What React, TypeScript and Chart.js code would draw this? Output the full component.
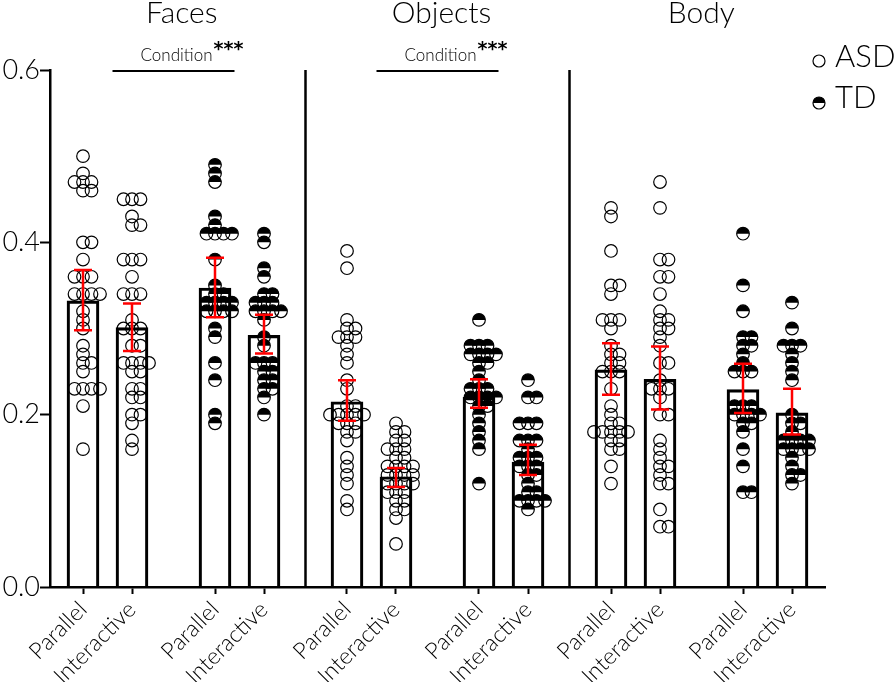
import { useEffect, useRef } from 'react';
import { Chart, registerables } from 'chart.js';

Chart.register(...registerables);

// ---------- data ----------
const panels = ['Faces', 'Objects', 'Body'];
const groupNames = ['ASD', 'TD'];
const barLabels = [
  'Parallel', 'Interactive', 'Parallel', 'Interactive',
  'Parallel', 'Interactive', 'Parallel', 'Interactive',
  'Parallel', 'Interactive', 'Parallel', 'Interactive',
];
const barGroup = ['ASD', 'ASD', 'TD', 'TD', 'ASD', 'ASD', 'TD', 'TD', 'ASD', 'ASD', 'TD', 'TD'];
const barMeans = [0.332, 0.301, 0.347, 0.292, 0.215, 0.128, 0.220, 0.145, 0.252, 0.241, 0.229, 0.202];
const ciLow = [0.298, 0.274, 0.313, 0.271, 0.193, 0.116, 0.208, 0.130, 0.223, 0.206, 0.202, 0.177];
const ciHigh = [0.368, 0.329, 0.382, 0.316, 0.240, 0.138, 0.241, 0.165, 0.283, 0.279, 0.259, 0.230];
const yTicks = [0, 0.2, 0.4, 0.6];
const sigPanels = ['Faces', 'Objects'];
const sigLabel = 'Condition';
const sigStars = '***';

const facesAsdParallel = [0.50, 0.48, 0.47, 0.47, 0.47, 0.46, 0.46, 0.40, 0.40, 0.38, 0.36, 0.36, 0.36, 0.34, 0.34, 0.34, 0.34, 0.32, 0.31, 0.30, 0.28, 0.27, 0.26, 0.26, 0.25, 0.23, 0.23, 0.23, 0.23, 0.21, 0.16];
const facesAsdInteractive = [0.45, 0.45, 0.45, 0.43, 0.42, 0.42, 0.38, 0.38, 0.38, 0.36, 0.34, 0.34, 0.34, 0.31, 0.30, 0.30, 0.30, 0.28, 0.28, 0.26, 0.26, 0.26, 0.26, 0.25, 0.25, 0.23, 0.23, 0.22, 0.22, 0.20, 0.20, 0.19, 0.17, 0.16];
const facesTdParallel = [0.49, 0.48, 0.47, 0.43, 0.42, 0.41, 0.41, 0.41, 0.41, 0.38, 0.35, 0.34, 0.34, 0.33, 0.33, 0.33, 0.33, 0.32, 0.32, 0.32, 0.32, 0.30, 0.29, 0.26, 0.24, 0.20, 0.19];
const facesTdInteractive = [0.41, 0.40, 0.37, 0.36, 0.34, 0.34, 0.33, 0.33, 0.33, 0.32, 0.32, 0.32, 0.32, 0.31, 0.29, 0.28, 0.26, 0.26, 0.26, 0.25, 0.25, 0.24, 0.24, 0.23, 0.23, 0.22, 0.20];
const objectsAsdParallel = [0.39, 0.37, 0.31, 0.30, 0.30, 0.29, 0.29, 0.29, 0.28, 0.27, 0.26, 0.24, 0.23, 0.21, 0.21, 0.20, 0.20, 0.20, 0.20, 0.20, 0.19, 0.19, 0.19, 0.18, 0.18, 0.17, 0.15, 0.14, 0.13, 0.12, 0.10, 0.09];
const objectsAsdInteractive = [0.19, 0.18, 0.18, 0.17, 0.17, 0.16, 0.16, 0.16, 0.15, 0.15, 0.14, 0.14, 0.14, 0.14, 0.13, 0.13, 0.13, 0.13, 0.12, 0.12, 0.12, 0.12, 0.11, 0.11, 0.11, 0.10, 0.10, 0.09, 0.09, 0.08, 0.05];
const objectsTdParallel = [0.31, 0.28, 0.28, 0.28, 0.27, 0.27, 0.27, 0.27, 0.26, 0.26, 0.25, 0.24, 0.23, 0.23, 0.23, 0.22, 0.22, 0.22, 0.22, 0.21, 0.21, 0.20, 0.19, 0.18, 0.17, 0.16, 0.12];
const objectsTdInteractive = [0.24, 0.22, 0.22, 0.19, 0.19, 0.19, 0.17, 0.17, 0.17, 0.16, 0.15, 0.15, 0.15, 0.14, 0.14, 0.14, 0.13, 0.13, 0.12, 0.11, 0.11, 0.10, 0.10, 0.10, 0.10, 0.09];
const bodyAsdParallel = [0.44, 0.43, 0.39, 0.35, 0.35, 0.34, 0.31, 0.31, 0.31, 0.30, 0.28, 0.27, 0.27, 0.26, 0.26, 0.25, 0.25, 0.25, 0.23, 0.21, 0.20, 0.19, 0.19, 0.18, 0.18, 0.18, 0.18, 0.18, 0.17, 0.17, 0.16, 0.16, 0.14, 0.12];
const bodyAsdInteractive = [0.47, 0.44, 0.38, 0.38, 0.36, 0.36, 0.34, 0.32, 0.31, 0.31, 0.30, 0.30, 0.29, 0.28, 0.26, 0.26, 0.24, 0.23, 0.23, 0.23, 0.22, 0.20, 0.20, 0.17, 0.16, 0.15, 0.14, 0.14, 0.13, 0.12, 0.12, 0.09, 0.07, 0.07];
const bodyTdParallel = [0.41, 0.35, 0.32, 0.29, 0.29, 0.28, 0.28, 0.27, 0.26, 0.25, 0.25, 0.25, 0.21, 0.21, 0.21, 0.20, 0.20, 0.20, 0.20, 0.19, 0.19, 0.18, 0.16, 0.14, 0.11, 0.11];
const bodyTdInteractive = [0.33, 0.30, 0.28, 0.28, 0.28, 0.27, 0.26, 0.25, 0.24, 0.20, 0.19, 0.19, 0.18, 0.17, 0.17, 0.17, 0.17, 0.16, 0.16, 0.16, 0.16, 0.15, 0.14, 0.13, 0.13, 0.12];

const pointSets = [
  facesAsdParallel, facesAsdInteractive, facesTdParallel, facesTdInteractive,
  objectsAsdParallel, objectsAsdInteractive, objectsTdParallel, objectsTdInteractive,
  bodyAsdParallel, bodyAsdInteractive, bodyTdParallel, bodyTdInteractive,
];

// ---------- layout ----------
const W = 896;
const H = 682;
const AREA_LEFT = 50;
const AREA_RIGHT = 825;
const AREA_TOP = 70;
const AREA_BOTTOM = 587;
const GAP = 34 / 49; // extra space between pairs (in bar-slot units)
const EDGE = 33 / 49;
const pos = (i: number) => i + Math.floor(i / 2) * GAP;
const X_MIN = -EDGE;
const X_MAX = pos(11) + EDGE;
const PX_PER_X = (AREA_RIGHT - AREA_LEFT) / (X_MAX - X_MIN);
const PX_PER_Y = (AREA_BOTTOM - AREA_TOP) / 0.6;
const FONT = 'Lato';
const R = 6.3;

function swarm(values: number[], minDist: number): number[] {
  const order = values.map((_, i) => i).sort((a, b) => values[b] - values[a]);
  const placed: { dx: number; py: number }[] = [];
  const out = new Array(values.length).fill(0);
  for (const i of order) {
    const py = values[i] * PX_PER_Y;
    let chosen = 0;
    for (let step = 0; step < 400; step++) {
      const mag = Math.ceil(step / 2) * 0.5;
      const dx = step % 2 === 1 ? mag : -mag;
      if (placed.every((p) => (p.dx - dx) ** 2 + (p.py - py) ** 2 >= minDist * minDist)) {
        chosen = dx;
        break;
      }
    }
    placed.push({ dx: chosen, py });
    out[i] = chosen;
  }
  return out;
}

function halfFill(ctx: CanvasRenderingContext2D, x: number, y: number, r: number) {
  ctx.beginPath();
  ctx.arc(x, y, r, Math.PI, 2 * Math.PI);
  ctx.closePath();
  ctx.fillStyle = '#000';
  ctx.fill();
}

export default function App() {
  const ref = useRef<HTMLCanvasElement>(null);

  useEffect(() => {
    const canvas = ref.current;
    if (!canvas) return;

    const decor = {
      id: 'decor',
      afterDatasetDraw(chart: any, args: any) {
        const idx = args.index - 1;
        if (idx < 0 || barGroup[idx] !== 'TD') return;
        const ctx = chart.ctx;
        ctx.save();
        args.meta.data.forEach((el: any) => halfFill(ctx, el.x, el.y, R));
        ctx.restore();
      },
      afterDatasetsDraw(chart: any) {
        const { ctx, scales, chartArea } = chart;
        const x = scales.x;
        const y = scales.y;
        ctx.save();
        // error bars
        ctx.strokeStyle = '#ff0000';
        ctx.lineWidth = 2.5;
        barMeans.forEach((_, i) => {
          const px = x.getPixelForValue(pos(i));
          const lo = y.getPixelForValue(ciLow[i]);
          const hi = y.getPixelForValue(ciHigh[i]);
          ctx.beginPath();
          ctx.moveTo(px, lo);
          ctx.lineTo(px, hi);
          ctx.moveTo(px - 9, lo);
          ctx.lineTo(px + 9, lo);
          ctx.moveTo(px - 9, hi);
          ctx.lineTo(px + 9, hi);
          ctx.stroke();
        });
        // panel dividers
        const bounds: number[] = [chartArea.left];
        for (let p = 1; p < panels.length; p++) {
          bounds.push(x.getPixelForValue((pos(p * 4 - 1) + pos(p * 4)) / 2));
        }
        bounds.push(chartArea.right);
        ctx.strokeStyle = '#000';
        ctx.lineWidth = 2.5;
        for (let p = 1; p < panels.length; p++) {
          ctx.beginPath();
          ctx.moveTo(bounds[p], chartArea.top);
          ctx.lineTo(bounds[p], chartArea.bottom);
          ctx.stroke();
        }
        // titles
        ctx.fillStyle = '#000';
        ctx.textAlign = 'center';
        ctx.textBaseline = 'alphabetic';
        ctx.font = `300 30px ${FONT}`;
        panels.forEach((name, p) => {
          ctx.fillText(name, (bounds[p] + bounds[p + 1]) / 2 + 4, 23);
        });
        // significance
        panels.forEach((name, p) => {
          if (!sigPanels.includes(name)) return;
          const c = x.getPixelForValue((pos(p * 4 + 1) + pos(p * 4 + 2)) / 2);
          ctx.strokeStyle = '#000';
          ctx.lineWidth = 2;
          ctx.beginPath();
          ctx.moveTo(c - 61, 71);
          ctx.lineTo(c + 61, 71);
          ctx.stroke();
          ctx.font = `300 17px ${FONT}`;
          ctx.textAlign = 'center';
          ctx.fillText(sigLabel, c + 3, 61);
          const w = ctx.measureText(sigLabel).width;
          ctx.textAlign = 'left';
          ctx.font = `bold 19px "DejaVu Sans"`;
          ctx.fillText(sigStars, c + 3 + w / 2 + 1, 55);
          ctx.textAlign = 'center';
        });
        // legend
        ctx.lineWidth = 1.2;
        ctx.strokeStyle = '#000';
        ctx.beginPath();
        ctx.arc(819, 61, 6, 0, 2 * Math.PI);
        ctx.stroke();
        halfFill(ctx, 819, 103, 6);
        ctx.beginPath();
        ctx.arc(819, 103, 6, 0, 2 * Math.PI);
        ctx.stroke();
        ctx.fillStyle = '#000';
        ctx.font = `300 31px ${FONT}`;
        ctx.textAlign = 'left';
        ctx.fillText(groupNames[0], 835, 67);
        ctx.fillText(groupNames[1], 835, 108);
        ctx.restore();
      },
    };

    const barDataset: any = {
      type: 'bar',
      data: barMeans.map((m, i) => ({ x: pos(i), y: m })),
      barThickness: 32,
      borderWidth: 2.5,
      borderColor: '#000',
      backgroundColor: 'rgba(0,0,0,0)',
      borderSkipped: 'bottom',
      order: 5,
    };

    const pointDatasets: any[] = pointSets.map((vals, i) => {
      const dx = swarm(vals, 8.5);
      return {
        type: 'scatter',
        data: vals.map((v, k) => ({ x: pos(i) + dx[k] / PX_PER_X, y: v })),
        pointStyle: 'circle',
        pointRadius: R,
        pointBorderWidth: 1.2,
        pointBorderColor: '#000',
        pointBackgroundColor: 'rgba(0,0,0,0)',
        order: 1,
      };
    });

    const chart = new Chart(canvas, {
      type: 'bar',
      data: { datasets: [barDataset, ...pointDatasets] },
      options: {
        animation: false,
        responsive: false,
        devicePixelRatio: 1,
        events: [],
        layout: { padding: { top: AREA_TOP, right: W - AREA_RIGHT, left: 0, bottom: 0 } },
        plugins: { legend: { display: false }, tooltip: { enabled: false } },
        scales: {
          x: {
            type: 'linear',
            offset: false,
            min: X_MIN,
            max: X_MAX,
            afterBuildTicks: (scale: any) => {
              scale.ticks = barLabels.map((_, i) => ({ value: pos(i) }));
            },
            afterFit: (scale: any) => {
              scale.height = H - AREA_BOTTOM;
              scale.paddingLeft = 0;
              scale.paddingRight = 0;
            },
            ticks: {
              autoSkip: false,
              minRotation: 45,
              maxRotation: 45,
              padding: 2,
              color: '#000',
              font: { family: FONT, size: 23, weight: '300' as any },
              callback: (_v: any, idx: number) => barLabels[idx],
            },
            grid: { offset: false, drawOnChartArea: false, drawTicks: true, tickLength: 7, tickWidth: 2, tickColor: '#000' },
            border: { display: true, color: '#000', width: 2.5 },
          },
          y: {
            type: 'linear',
            min: 0,
            max: 0.6,
            afterBuildTicks: (scale: any) => {
              scale.ticks = yTicks.map((v) => ({ value: v }));
            },
            afterFit: (scale: any) => {
              scale.width = AREA_LEFT;
              scale.paddingTop = 0;
              scale.paddingBottom = 0;
            },
            ticks: {
              padding: 0,
              color: '#000',
              font: { family: FONT, size: 27, weight: '300' as any },
              callback: (v: any) => Number(v).toFixed(1),
            },
            grid: { drawOnChartArea: false, drawTicks: true, tickLength: 10, tickWidth: 2, tickColor: '#000' },
            border: { display: true, color: '#000', width: 2.5 },
          },
        },
      },
      plugins: [decor],
    } as any);

    return () => chart.destroy();
  }, []);

  return (
    <div style={{ position: 'fixed', left: 0, top: 0, width: W, height: H, background: '#fff' }}>
      <canvas ref={ref} width={W} height={H} style={{ width: W, height: H, display: 'block' }} />
    </div>
  );
}
